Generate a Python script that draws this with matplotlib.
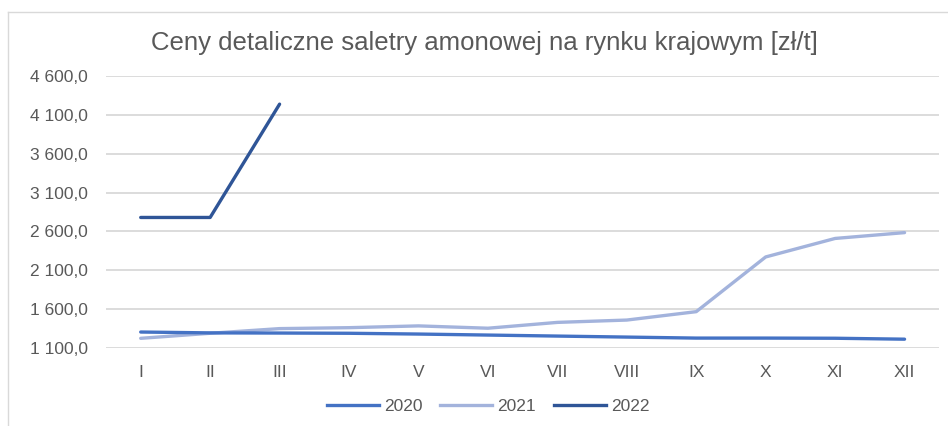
import matplotlib.pyplot as plt
from matplotlib.lines import Line2D

plt.rcParams['font.family'] = ['Liberation Sans', 'DejaVu Sans']

months = ['I', 'II', 'III', 'IV', 'V', 'VI', 'VII', 'VIII', 'IX', 'X', 'XI', 'XII']
y2020 = [1306, 1295, 1293, 1290, 1280, 1267, 1254, 1241, 1228, 1228, 1226, 1214]
y2021 = [1225, 1290, 1350, 1362, 1385, 1355, 1430, 1460, 1568, 2272, 2510, 2585]
y2022 = [2780, 2780, 4238]
yticks = [1100, 1600, 2100, 2600, 3100, 3600, 4100, 4600]
ytick_labels = ['1 100,0', '1 600,0', '2 100,0', '2 600,0', '3 100,0', '3 600,0', '4 100,0', '4 600,0']

c2020 = '#4472C4'
c2021 = '#A3B3DC'
c2022 = '#2F5597'
grey = '#595959'

fig = plt.figure(figsize=(9.48, 4.26), dpi=100)
ax = fig.add_axes([0.1118, 0.183, 0.879, 0.6386])

x = list(range(len(months)))
ax.plot(x, y2020, color=c2020, lw=2.4, solid_capstyle='round', zorder=3)
ax.plot(x, y2021, color=c2021, lw=2.4, solid_capstyle='round', zorder=2)
ax.plot(x[:len(y2022)], y2022, color=c2022, lw=2.4, solid_capstyle='round', zorder=4)

ax.set_xlim(-0.5, len(months) - 0.5)
ax.set_ylim(1100, 4600)
ax.set_yticks(yticks)
ax.set_yticklabels(ytick_labels)
ax.set_xticks(x)
ax.set_xticklabels(months)
ax.grid(axis='y', color='#D9D9D9', lw=1.3)
ax.set_axisbelow(True)
for s in ax.spines.values():
    s.set_visible(False)
ax.tick_params(length=0, labelsize=12.5, colors=grey, pad=13)
ax.tick_params(axis='x', pad=12)

fig.text(0.511, 0.898, 'Ceny detaliczne saletry amonowej na rynku krajowym [zł/t]',
         ha='center', va='center', fontsize=18.5, color=grey)

handles = [Line2D([], [], color=c, lw=2.4) for c in (c2020, c2021, c2022)]
fig.legend(handles, ['2020', '2021', '2022'], loc='center', bbox_to_anchor=(0.515, 0.045),
           ncol=3, frameon=False, fontsize=12.5, labelcolor=grey, handlelength=3.0,
           handletextpad=0.3, columnspacing=1.0)

# chart border
fig.add_artist(Line2D([8 / 948, 8 / 948], [0, 1 - 12 / 426], color='#D9D9D9', lw=1))
fig.add_artist(Line2D([8 / 948, 1], [1 - 12 / 426, 1 - 12 / 426], color='#D9D9D9', lw=1))

fig.savefig('out.png', dpi=100)
